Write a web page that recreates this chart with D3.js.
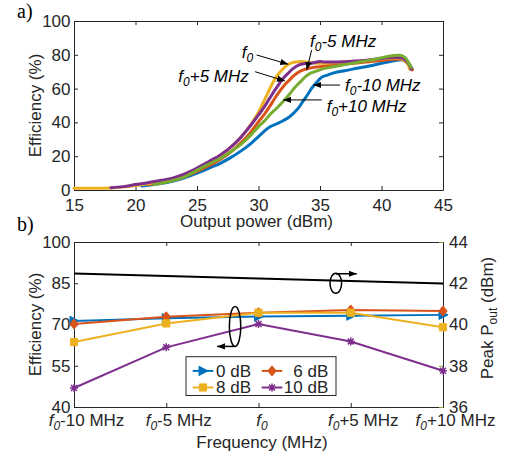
<!DOCTYPE html>
<html>
<head>
<meta charset="utf-8">
<script src="https://cdn.jsdelivr.net/npm/d3@7"></script>
<style>
  body { margin: 0; background: #fff; }
  svg text { font-family: "Liberation Sans", Arial, sans-serif; font-size: 17px; fill: #262626; }
</style>
</head>
<body>
<script>
// ---------- (a) efficiency vs output power, [Pout (dBm), efficiency (%)] ----------
const curveF0m10 = [[20.5,2.3],[21,2.8],[22,3.8],[23,5.2],[24,7.2],[25,10],[26,13],[26.9,15.8],[27.7,19],[28.5,22.7],[29.3,27],[30,31.6],[30.5,35],[30.9,37.3],[31.5,39.2],[32,41],[32.5,43.2],[32.9,45.8],[33.3,49],[33.6,52.3],[34,56.5],[34.3,60],[34.7,63.5],[35.1,66.5],[35.6,68],[36,69],[37,70.6],[38,72],[39,73.4],[40,75],[41,76.5],[41.6,77],[42,76],[42.3,74],[42.5,71.5]];
const curveF0m5 = [[21,3.3],[22,4.3],[23,5.8],[24,8],[25,11],[26,14.5],[26.9,18],[28,24],[28.5,27.5],[29,31],[29.5,35.5],[30,40.4],[30.5,45],[30.9,49.3],[31.3,54],[31.7,58.2],[32.1,62],[32.5,65],[32.9,67.8],[33.3,70],[33.7,71.2],[34.1,72],[35,73],[35.8,73.8],[37,74.5],[38,75.2],[39,75.9],[40,76.6],[41,77.3],[41.6,77.3],[42,75.8],[42.3,73.5],[42.5,71]];
const curveF0 = [[15,1],[16,1],[17,1],[18,1.2],[19,1.7],[20,2.6],[21,3.7],[22,5],[23,6.6],[24,8.9],[25,12.3],[26,16.3],[27,21],[28,27],[28.5,30.6],[29,35],[29.5,40],[30,46],[30.6,55],[31.2,64],[31.6,68.5],[31.9,71],[32.2,73.2],[32.5,74.6],[33,75.8],[33.5,76],[34,75.6],[34.5,75.2],[35,75],[36,75.3],[37,75.7],[38,76.2],[39,76.8],[40,77.6],[41,78.2],[41.5,78],[41.9,76.5],[42.2,73.5],[42.3,71.5]];
const curveF0p5 = [[18,1.3],[19,2],[20,3.2],[21,4.3],[22,5.6],[23,7],[24,9.5],[25,13],[26,17],[26.9,20.7],[28,27],[28.5,30.6],[29,35],[29.5,39.5],[30,44.4],[30.5,49.5],[30.9,54.2],[31.3,58.8],[31.7,63],[32,66],[32.4,69],[32.8,71.8],[33.3,74],[33.8,74.8],[34.4,75.2],[35,76],[35.3,75.8],[36,75.7],[37,75.9],[38,76.4],[39,77],[40,77.8],[41,78.6],[41.6,78.3],[42,76.5],[42.3,73.5],[42.4,71.5]];
const curveF0p10 = [[21.5,3.2],[22,3.9],[23,5.5],[24,7.8],[25,11.7],[26,15.5],[26.9,18.7],[28,24],[28.5,26.6],[29,29.8],[29.5,33.5],[30,37.5],[30.5,41],[30.9,44.4],[31.5,48.5],[32,52.3],[32.5,56.5],[32.9,60.2],[33.4,64],[33.8,67],[34.2,69],[34.7,70.3],[35.3,71.8],[35.8,72.6],[36.5,73.5],[37,74.2],[38,75.5],[39,76.7],[40,78.2],[41,79.6],[41.5,79.8],[41.9,78.5],[42.2,75.5],[42.4,72.5]];

const powerTicks = [15, 20, 25, 30, 35, 40, 45];
const effTicksA = [0, 20, 40, 60, 80, 100];

// annotation labels: suffix after "f0", text anchor [P, eff], arrow from [P, eff] to [P, eff]
const annoSuffix = ["", "+5 MHz", "-5 MHz", "-10 MHz", "+10 MHz"];
const annoText = [[28.63,78.1],[23.48,63.9],[34.19,84.9],[37.03,58.8],[35.54,46.3]];
const annoFrom = [[29.85,79.9],[29.72,70],[34.32,82.8],[36.63,62.1],[35.14,53.3]];
const annoTo = [[32.42,74.4],[32.15,64.5],[33.92,71],[34.46,62.1],[32.02,53.3]];

// ---------- (b) efficiency and peak Pout vs frequency ----------
const freqOffsets = [-10, -5, 0, 5, 10];
const freqSuffix = ["-10 MHz", "-5 MHz", "", "+5 MHz", "+10 MHz"];
const eff0dB = [71.3, 72.3, 72.9, 73.2, 73.5];
const eff6dB = [70.2, 72.8, 74.3, 75.3, 74.9];
const eff8dB = [63.6, 70.4, 74.3, 74.3, 69.0];
const eff10dB = [46.9, 61.7, 70.2, 63.8, 53.2];
const peakPout = [42.47, 42.35, 42.23, 42.11, 41.99];
const effTicksB = [40, 55, 70, 85, 100];
const poutTicks = [36, 38, 40, 42, 44];
const backoffNames = ["0 dB", "6 dB", "8 dB", "10 dB"];

const blue = '#0072BD', orange = '#D95319', yellow = '#EDB120', purple = '#7E2F8E', green = '#77AC30';
const axisColor = '#262626';

const svg = d3.select('body').append('svg')
  .attr('width', 511)
  .attr('height', 460);

svg.append('defs').append('marker')
  .attr('id', 'arrow')
  .attr('markerUnits', 'userSpaceOnUse')
  .attr('markerWidth', 10).attr('markerHeight', 10)
  .attr('refX', 8).attr('refY', 5)
  .attr('orient', 'auto')
  .append('path')
  .attr('d', 'M0,1.8 L8,5 L0,8.2 Z')
  .attr('fill', '#000');

// writes "f0<suffix>" into a text element, f0 italic with subscript
function fLabel(t, suffix, italicAll) {
  t.append('tspan').style('font-style', 'italic').text('f');
  t.append('tspan').style('font-style', 'italic').attr('font-size', '12px').attr('dy', 4).text('0');
  if (suffix) {
    t.append('tspan').attr('dy', -4)
      .style('font-style', italicAll ? 'italic' : 'normal')
      .text(suffix);
  }
}

/* ================= panel (a) ================= */
const A = { left: 74, right: 443, top: 21, bottom: 190 };
const xA = d3.scaleLinear().domain([15, 45]).range([A.left, A.right]);
const yA = d3.scaleLinear().domain([0, 100]).range([A.bottom, A.top]);

function styleAxis(g) {
  g.select('.domain').attr('stroke', axisColor);
  g.selectAll('.tick line').attr('stroke', axisColor);
  g.selectAll('.tick text').attr('font-size', null).attr('font-family', null).attr('fill', axisColor);
  g.attr('font-size', null).attr('font-family', null);
}

svg.append('g')
  .attr('transform', `translate(0,${A.bottom})`)
  .call(d3.axisBottom(xA).tickValues(powerTicks).tickSizeInner(-4).tickSizeOuter(0).tickPadding(9))
  .call(styleAxis);
svg.append('g')
  .attr('transform', `translate(0,${A.top})`)
  .call(d3.axisTop(xA).tickValues(powerTicks).tickSizeInner(-4).tickSizeOuter(0).tickFormat(''))
  .call(styleAxis);
svg.append('g')
  .attr('transform', `translate(${A.left},0)`)
  .call(d3.axisLeft(yA).tickValues(effTicksA).tickSizeInner(-4).tickSizeOuter(0).tickPadding(3.5))
  .call(styleAxis);
svg.append('g')
  .attr('transform', `translate(${A.right},0)`)
  .call(d3.axisRight(yA).tickValues(effTicksA).tickSizeInner(-4).tickSizeOuter(0).tickFormat(''))
  .call(styleAxis);

const lineA = d3.line()
  .x(d => xA(d[0]))
  .y(d => yA(d[1]))
  .curve(d3.curveMonotoneX);

const curves = [
  { data: curveF0m10, color: blue },
  { data: curveF0m5, color: orange },
  { data: curveF0, color: yellow },
  { data: curveF0p5, color: purple },
  { data: curveF0p10, color: green }
];
svg.append('g').selectAll('path')
  .data(curves)
  .enter().append('path')
  .attr('d', d => lineA(d.data))
  .attr('fill', 'none')
  .attr('stroke', d => d.color)
  .attr('stroke-width', 3)
  .attr('stroke-linejoin', 'round')
  .attr('stroke-linecap', 'round');

// annotations
annoSuffix.forEach((s, i) => {
  svg.append('line')
    .attr('x1', xA(annoFrom[i][0])).attr('y1', yA(annoFrom[i][1]))
    .attr('x2', xA(annoTo[i][0])).attr('y2', yA(annoTo[i][1]))
    .attr('stroke', '#000').attr('stroke-width', 1)
    .attr('marker-end', 'url(#arrow)');
  const t = svg.append('text')
    .attr('x', xA(annoText[i][0]))
    .attr('y', yA(annoText[i][1]))
    .style('fill', '#000');
  fLabel(t, s, true);
});

svg.append('text')
  .attr('x', 256.5).attr('y', 227)
  .attr('text-anchor', 'middle')
  .text('Output power (dBm)');
svg.append('text')
  .attr('transform', `translate(41,${(A.top + A.bottom) / 2}) rotate(-90)`)
  .attr('text-anchor', 'middle')
  .text('Efficiency (%)');
svg.append('text')
  .attr('x', 17).attr('y', 18)
  .style('font-family', '"Liberation Serif", "Times New Roman", serif')
  .style('font-size', '20px')
  .style('fill', '#000')
  .text('a)');

/* ================= panel (b) ================= */
const B = { left: 74, right: 443, top: 242, bottom: 407 };
const xB = d3.scaleLinear().domain([-10, 10]).range([B.left, B.right]);
const yB = d3.scaleLinear().domain([40, 100]).range([B.bottom, B.top]);
const yR = d3.scaleLinear().domain([36, 44]).range([B.bottom, B.top]);

const gxB = svg.append('g')
  .attr('transform', `translate(0,${B.bottom})`)
  .call(d3.axisBottom(xB).tickValues(freqOffsets).tickSizeInner(-4).tickSizeOuter(0).tickPadding(7))
  .call(styleAxis);
gxB.selectAll('.tick text').each(function (d, i) {
  const t = d3.select(this).text(null);
  t.attr('dx', freqSuffix[i] ? 12 : 3);
  fLabel(t, freqSuffix[i], false);
});
svg.append('g')
  .attr('transform', `translate(0,${B.top})`)
  .call(d3.axisTop(xB).tickValues(freqOffsets).tickSizeInner(-4).tickSizeOuter(0).tickFormat(''))
  .call(styleAxis);
svg.append('g')
  .attr('transform', `translate(${B.left},0)`)
  .call(d3.axisLeft(yB).tickValues(effTicksB).tickSizeInner(-4).tickSizeOuter(0).tickPadding(3.5))
  .call(styleAxis);
const gyR = svg.append('g')
  .attr('transform', `translate(${B.right},0)`)
  .call(d3.axisRight(yR).tickValues(poutTicks).tickSizeInner(-4).tickSizeOuter(0).tickPadding(6))
  .call(styleAxis);
gyR.selectAll('.tick line').attr('stroke', green);

// peak Pout (right axis)
svg.append('path')
  .datum(peakPout)
  .attr('d', d3.line().x((d, i) => xB(freqOffsets[i])).y(d => yR(d)))
  .attr('fill', 'none')
  .attr('stroke', '#000')
  .attr('stroke-width', 2);

// marker shapes
const markerShapes = {
  tri: 'M-4,-4.6 L5,0 L-4,4.6 Z',
  diamond: 'M0,-5 L4.2,0 L0,5 L-4.2,0 Z',
  square: 'M-3.6,-3.6 H3.6 V3.6 H-3.6 Z',
  star: 'M-4,0 H4 M0,-4 V4 M-3,-3 L3,3 M-3,3 L3,-3'
};
const seriesB = [
  { vals: eff0dB, color: blue, shape: 'tri' },
  { vals: eff6dB, color: orange, shape: 'diamond' },
  { vals: eff8dB, color: yellow, shape: 'square' },
  { vals: eff10dB, color: purple, shape: 'star' }
];
const lineB = d3.line().x((d, i) => xB(freqOffsets[i])).y(d => yB(d));

function drawMarker(g, shape, color, x, y) {
  const isStar = shape === 'star';
  g.append('path')
    .attr('d', markerShapes[shape])
    .attr('transform', `translate(${x},${y})`)
    .attr('fill', isStar ? 'none' : color)
    .attr('stroke', color)
    .attr('stroke-width', isStar ? 1.5 : 1);
}

seriesB.forEach(s => {
  const g = svg.append('g');
  g.append('path')
    .attr('d', lineB(s.vals))
    .attr('fill', 'none')
    .attr('stroke', s.color)
    .attr('stroke-width', 2);
  s.vals.forEach((v, i) => drawMarker(g, s.shape, s.color, xB(freqOffsets[i]), yB(v)));
});

// ellipse + arrow annotations (left group -> left axis, right -> right axis)
const leftEll = { f: -1.27, v: 69.3 };
const rightEll = { f: 4.19, v: 42.0 };
const le = { x: xB(leftEll.f), y: yB(leftEll.v) };
const re = { x: xB(rightEll.f), y: yR(rightEll.v) };
svg.append('ellipse')
  .attr('cx', le.x).attr('cy', le.y).attr('rx', 5.7).attr('ry', 20)
  .attr('fill', 'none').attr('stroke', '#000').attr('stroke-width', 1.5);
svg.append('line')
  .attr('x1', le.x).attr('y1', le.y + 20)
  .attr('x2', le.x - 18).attr('y2', le.y + 20)
  .attr('stroke', '#000').attr('stroke-width', 1.5)
  .attr('marker-end', 'url(#arrow)');
svg.append('ellipse')
  .attr('cx', re.x).attr('cy', re.y).attr('rx', 5.8).attr('ry', 10)
  .attr('fill', 'none').attr('stroke', '#000').attr('stroke-width', 1.5);
svg.append('line')
  .attr('x1', re.x).attr('y1', re.y - 9.5)
  .attr('x2', re.x + 21).attr('y2', re.y - 9.5)
  .attr('stroke', '#000').attr('stroke-width', 1.5)
  .attr('marker-end', 'url(#arrow)');

// legend
const legend = svg.append('g').attr('transform', 'translate(186,356.7)');
legend.append('rect')
  .attr('width', 150).attr('height', 38.8)
  .attr('fill', '#fff').attr('stroke', axisColor).attr('stroke-width', 1);
const legendPos = [
  { lx: 6.7, row: 0, col: 0 },
  { lx: 75.7, row: 0, col: 1 },
  { lx: 6.7, row: 1, col: 0 },
  { lx: 75.7, row: 1, col: 1 }
];
seriesB.forEach((s, i) => {
  const p = legendPos[i];
  const cy = p.row ? 30.8 : 14.2;
  legend.append('line')
    .attr('x1', p.lx).attr('x2', p.lx + 20.6)
    .attr('y1', cy).attr('y2', cy)
    .attr('stroke', s.color).attr('stroke-width', 2);
  drawMarker(legend, s.shape, s.color, p.lx + 10.3, cy);
  legend.append('text')
    .attr('x', p.col ? 142.3 : 30)
    .attr('y', cy + 6)
    .attr('text-anchor', p.col ? 'end' : 'start')
    .text(backoffNames[i]);
});

svg.append('text')
  .attr('x', 262).attr('y', 448)
  .attr('text-anchor', 'middle')
  .text('Frequency (MHz)');
svg.append('text')
  .attr('transform', `translate(41,${(B.top + B.bottom) / 2}) rotate(-90)`)
  .attr('text-anchor', 'middle')
  .text('Efficiency (%)');
const rl = svg.append('text')
  .attr('transform', `translate(493,318) rotate(-90)`)
  .attr('text-anchor', 'middle');
rl.append('tspan').text('Peak P');
rl.append('tspan').attr('font-size', '12px').attr('dy', 4).text('out');
rl.append('tspan').attr('dy', -4).text(' (dBm)');
svg.append('text')
  .attr('x', 17).attr('y', 231)
  .style('font-family', '"Liberation Serif", "Times New Roman", serif')
  .style('font-size', '20px')
  .style('fill', '#000')
  .text('b)');
</script>
</body>
</html>
